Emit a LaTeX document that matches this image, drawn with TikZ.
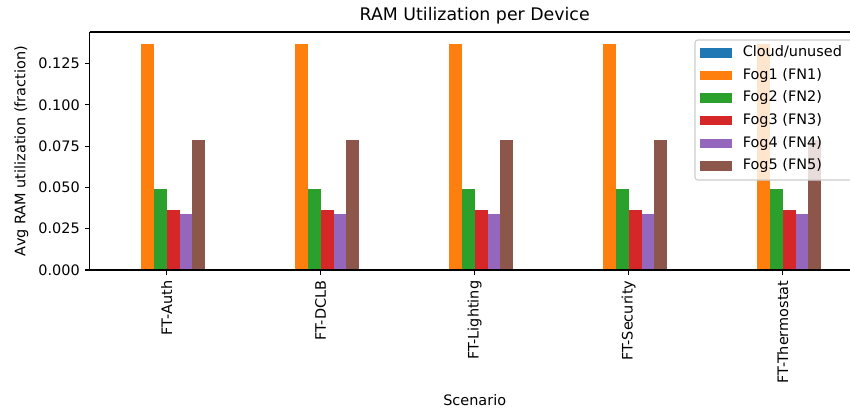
\documentclass[tikz,border=0pt]{standalone}
\usepackage{fontspec}
\setmainfont{DejaVu Sans}
\definecolor{c0}{HTML}{1F77B4}
\definecolor{c1}{HTML}{FF7F0E}
\definecolor{c2}{HTML}{2CA02C}
\definecolor{c3}{HTML}{D62728}
\definecolor{c4}{HTML}{9467BD}
\definecolor{c5}{HTML}{8C564B}
\begin{document}
\begin{tikzpicture}[x=0.72pt,y=-0.72pt,
  font=\fontsize{10.4}{12}\selectfont,
  spine/.style={line width=0.8pt,draw=black},
  tickmark/.style={line width=0.8pt,draw=black},
  ticklabel/.style={inner sep=0pt,text=black},
  legendbox/.style={draw=black!20,fill=white,fill opacity=0.8,rounded corners=2pt,line width=0.8pt},
  legpatch/.style={draw=none}]
\useasboundingbox (0,0) rectangle (850,410);
% bars
\foreach \i in {0,...,4}{
  \pgfmathsetmacro\cx{166.7+154*\i}
  \foreach \v/\c [count=\j from 0] in {0/c0,0.1368/c1,0.0490/c2,0.0365/c3,0.0339/c4,0.0787/c5}{
    \fill[\c] ({\cx-38.5+\j*12.833},270) rectangle ({\cx-38.5+(\j+1)*12.833},{270-\v*1652});
  }
}
% spines
\draw[spine] (89.7,32) -- (89.7,270) -- (862,270);
\draw[spine] (89.7,32) -- (862,32);
% y ticks
\foreach \v/\l in {0/0.000,0.025/0.025,0.05/0.050,0.075/0.075,0.1/0.100,0.125/0.125}{
  \draw[tickmark] (89.7,{270-\v*1652}) -- (84.8,{270-\v*1652});
  \node[ticklabel,anchor=east] at (80,{270-\v*1652}) {\l};
}
% x ticks
\foreach \l [count=\i from 0] in {FT-Auth,FT-DCLB,FT-Lighting,FT-Security,FT-Thermostat}{
  \draw[tickmark] ({166.7+154*\i},270) -- ({166.7+154*\i},274.9);
  \node[ticklabel,anchor=east,rotate=90] (xl\i) at ({166.7+154*\i},280.5) {\l};
}
% labels
\node[ticklabel] (ylab) at (21.5,151) [rotate=90] {Avg RAM utilization (fraction)};
\node[ticklabel] (xlab) at (474.7,400.5) {Scenario};
\node[ticklabel,font=\fontsize{12.5}{14}\selectfont] (title) at (474.7,16) {RAM Utilization per Device};
% legend
\draw[legendbox] (695,40) rectangle (856,180);
\foreach \l/\c [count=\k from 0] in {{Cloud/unused}/c0,{Fog1 (FN1)}/c1,{Fog2 (FN2)}/c2,{Fog3 (FN3)}/c3,{Fog4 (FN4)}/c4,{Fog5 (FN5)}/c5}{
  \fill[\c] (700,{52.7+22.65*\k-4.8}) rectangle (731.7,{52.7+22.65*\k+4.8});
  \node[ticklabel,anchor=mid west] (leg\k) at (742.5,{52.7+22.65*\k}) {\l};
}
\end{tikzpicture}
\end{document}
